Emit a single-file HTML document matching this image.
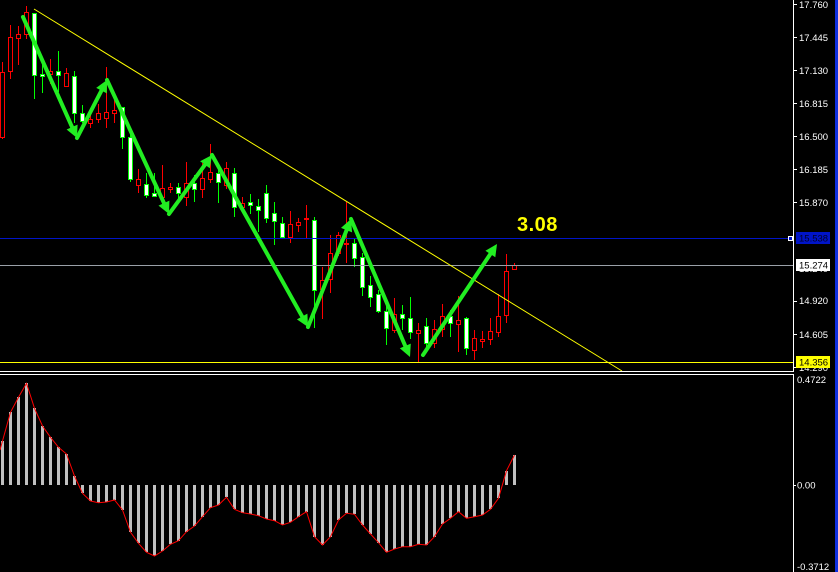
<!DOCTYPE html>
<html><head><meta charset="utf-8"><style>
html,body{margin:0;padding:0;background:#000;}
svg{display:block;}
text{font-family:"Liberation Sans",Arial,sans-serif;}
</style></head><body>
<svg width="838" height="572" viewBox="0 0 838 572" xmlns="http://www.w3.org/2000/svg">
<rect width="838" height="572" fill="#000"/>
<!-- candles -->
<g stroke-width="1" shape-rendering="crispEdges">
<g stroke="#ff0000">
<line x1="2.5" y1="62" x2="2.5" y2="139"/><rect x="0.5" y="72.5" width="4" height="65" fill="#000"/>
<line x1="10.5" y1="25" x2="10.5" y2="79"/><rect x="8.5" y="37.5" width="4" height="34" fill="#000"/>
<line x1="18.5" y1="26" x2="18.5" y2="65"/><rect x="16.5" y="34.5" width="4" height="4" fill="#000"/>
<line x1="26.5" y1="6" x2="26.5" y2="39"/><rect x="24.5" y="12.5" width="4" height="22" fill="#000"/>
<line x1="50.5" y1="59" x2="50.5" y2="84"/><rect x="48.5" y="71.5" width="4" height="3" fill="#000"/>
<line x1="66.5" y1="68" x2="66.5" y2="87"/><rect x="64.5" y="73.5" width="4" height="13" fill="#000"/>
<line x1="90.5" y1="115" x2="90.5" y2="128"/><rect x="88.5" y="119.5" width="4" height="4" fill="#000"/>
<line x1="98.5" y1="104" x2="98.5" y2="123"/><rect x="96.5" y="113.5" width="4" height="6" fill="#000"/>
<line x1="106.5" y1="67" x2="106.5" y2="128"/><rect x="104.5" y="112.5" width="4" height="6" fill="#000"/>
<line x1="114.5" y1="100" x2="114.5" y2="123"/><rect x="112.5" y="110.5" width="4" height="3" fill="#000"/>
<line x1="138.5" y1="169" x2="138.5" y2="193"/><rect x="136.5" y="179.5" width="4" height="6" fill="#000"/>
<line x1="162.5" y1="165" x2="162.5" y2="206"/><rect x="160.5" y="188.5" width="4" height="9" fill="#000"/>
<line x1="170.5" y1="183" x2="170.5" y2="193"/><rect x="168.5" y="187.5" width="4" height="2" fill="#000"/>
<line x1="186.5" y1="162" x2="186.5" y2="206"/><rect x="184.5" y="183.5" width="4" height="14" fill="#000"/>
<line x1="202.5" y1="163" x2="202.5" y2="198"/><rect x="200.5" y="178.5" width="4" height="11" fill="#000"/>
<line x1="210.5" y1="144" x2="210.5" y2="183"/><rect x="208.5" y="172.5" width="4" height="7" fill="#000"/>
<line x1="226.5" y1="162" x2="226.5" y2="189"/><rect x="224.5" y="168.5" width="4" height="17" fill="#000"/>
<line x1="242.5" y1="197" x2="242.5" y2="213"/><rect x="240.5" y="203.5" width="4" height="4" fill="#000"/>
<line x1="290.5" y1="211" x2="290.5" y2="243"/><rect x="288.5" y="224.5" width="4" height="13" fill="#000"/>
<line x1="298.5" y1="218" x2="298.5" y2="232"/><rect x="296.5" y="222.5" width="4" height="3" fill="#000"/>
<line x1="306.5" y1="205" x2="306.5" y2="239"/><rect x="304.5" y="218.5" width="4" height="1" fill="#000"/>
<line x1="322.5" y1="267" x2="322.5" y2="319"/><rect x="320.5" y="280.5" width="4" height="9" fill="#000"/>
<line x1="330.5" y1="235" x2="330.5" y2="293"/><rect x="328.5" y="253.5" width="4" height="26" fill="#000"/>
<line x1="338.5" y1="232" x2="338.5" y2="256"/><rect x="336.5" y="235.5" width="4" height="18" fill="#000"/>
<line x1="346.5" y1="202" x2="346.5" y2="263"/><rect x="344.5" y="243.5" width="4" height="1" fill="#000"/>
<line x1="394.5" y1="298" x2="394.5" y2="333"/><rect x="392.5" y="314.5" width="4" height="16" fill="#000"/>
<line x1="418.5" y1="323" x2="418.5" y2="362"/><rect x="416.5" y="330.5" width="4" height="3" fill="#000"/>
<line x1="434.5" y1="320" x2="434.5" y2="348"/><rect x="432.5" y="329.5" width="4" height="14" fill="#000"/>
<line x1="442.5" y1="304" x2="442.5" y2="337"/><rect x="440.5" y="316.5" width="4" height="13" fill="#000"/>
<line x1="458.5" y1="296" x2="458.5" y2="352"/><rect x="456.5" y="320.5" width="4" height="4" fill="#000"/>
<line x1="474.5" y1="330" x2="474.5" y2="360"/><rect x="472.5" y="338.5" width="4" height="12" fill="#000"/>
<line x1="482.5" y1="331" x2="482.5" y2="348"/><rect x="480.5" y="339.5" width="4" height="2" fill="#000"/>
<line x1="490.5" y1="318" x2="490.5" y2="345"/><rect x="488.5" y="331.5" width="4" height="8" fill="#000"/>
<line x1="498.5" y1="294" x2="498.5" y2="337"/><rect x="496.5" y="316.5" width="4" height="16" fill="#000"/>
<line x1="506.5" y1="254" x2="506.5" y2="323"/><rect x="504.5" y="271.5" width="4" height="44" fill="#000"/>
<line x1="514.5" y1="263" x2="514.5" y2="270"/><rect x="512.5" y="265.5" width="4" height="4" fill="#000"/>
</g>
<g stroke="#00ff00">
<line x1="34.5" y1="13" x2="34.5" y2="99"/><rect x="32.5" y="13.5" width="4" height="62" fill="#fff"/>
<line x1="42.5" y1="63" x2="42.5" y2="93"/><rect x="40.5" y="74.5" width="4" height="2" fill="#fff"/>
<line x1="58.5" y1="51" x2="58.5" y2="92"/><rect x="56.5" y="71.5" width="4" height="4" fill="#fff"/>
<line x1="74.5" y1="71" x2="74.5" y2="123"/><rect x="72.5" y="76.5" width="4" height="37" fill="#fff"/>
<line x1="82.5" y1="105" x2="82.5" y2="123"/><rect x="80.5" y="113.5" width="4" height="8" fill="#fff"/>
<line x1="122.5" y1="107" x2="122.5" y2="149"/><rect x="120.5" y="107.5" width="4" height="30" fill="#fff"/>
<line x1="130.5" y1="130" x2="130.5" y2="182"/><rect x="128.5" y="137.5" width="4" height="42" fill="#fff"/>
<line x1="146.5" y1="173" x2="146.5" y2="198"/><rect x="144.5" y="184.5" width="4" height="11" fill="#fff"/>
<line x1="154.5" y1="173" x2="154.5" y2="197"/><rect x="152.5" y="193.5" width="4" height="3" fill="#fff"/>
<line x1="178.5" y1="183" x2="178.5" y2="199"/><rect x="176.5" y="187.5" width="4" height="6" fill="#fff"/>
<line x1="194.5" y1="175" x2="194.5" y2="202"/><rect x="192.5" y="183.5" width="4" height="6" fill="#fff"/>
<line x1="218.5" y1="168" x2="218.5" y2="203"/><rect x="216.5" y="173.5" width="4" height="9" fill="#fff"/>
<line x1="234.5" y1="168" x2="234.5" y2="217"/><rect x="232.5" y="173.5" width="4" height="34" fill="#fff"/>
<line x1="250.5" y1="194" x2="250.5" y2="214"/><rect x="248.5" y="202.5" width="4" height="3" fill="#fff"/>
<line x1="258.5" y1="199" x2="258.5" y2="232"/><rect x="256.5" y="206.5" width="4" height="4" fill="#fff"/>
<line x1="266.5" y1="185" x2="266.5" y2="223"/><rect x="264.5" y="193.5" width="4" height="25" fill="#fff"/>
<line x1="274.5" y1="202" x2="274.5" y2="245"/><rect x="272.5" y="213.5" width="4" height="8" fill="#fff"/>
<line x1="282.5" y1="217" x2="282.5" y2="238"/><rect x="280.5" y="223.5" width="4" height="14" fill="#fff"/>
<line x1="314.5" y1="217" x2="314.5" y2="328"/><rect x="312.5" y="220.5" width="4" height="70" fill="#fff"/>
<line x1="354.5" y1="238" x2="354.5" y2="267"/><rect x="352.5" y="243.5" width="4" height="15" fill="#fff"/>
<line x1="362.5" y1="253" x2="362.5" y2="296"/><rect x="360.5" y="257.5" width="4" height="30" fill="#fff"/>
<line x1="370.5" y1="276" x2="370.5" y2="307"/><rect x="368.5" y="285.5" width="4" height="12" fill="#fff"/>
<line x1="378.5" y1="290" x2="378.5" y2="313"/><rect x="376.5" y="294.5" width="4" height="17" fill="#fff"/>
<line x1="386.5" y1="303" x2="386.5" y2="345"/><rect x="384.5" y="311.5" width="4" height="17" fill="#fff"/>
<line x1="402.5" y1="305" x2="402.5" y2="330"/><rect x="400.5" y="314.5" width="4" height="4" fill="#fff"/>
<line x1="410.5" y1="297" x2="410.5" y2="339"/><rect x="408.5" y="318.5" width="4" height="14" fill="#fff"/>
<line x1="426.5" y1="318" x2="426.5" y2="347"/><rect x="424.5" y="326.5" width="4" height="17" fill="#fff"/>
<line x1="450.5" y1="310" x2="450.5" y2="337"/><rect x="448.5" y="316.5" width="4" height="7" fill="#fff"/>
<line x1="466.5" y1="317" x2="466.5" y2="355"/><rect x="464.5" y="318.5" width="4" height="30" fill="#fff"/>
</g>
</g>
<!-- horizontal lines -->
<g shape-rendering="crispEdges">
<line x1="0" y1="238.5" x2="788" y2="238.5" stroke="#0014c8" stroke-width="1"/>
<rect x="788.5" y="236.5" width="4" height="4" fill="#0014c8" stroke="#fff" stroke-width="1"/>
<line x1="0" y1="265.5" x2="793" y2="265.5" stroke="#9aa0a8" stroke-width="1"/>
<line x1="0" y1="362.5" x2="793" y2="362.5" stroke="#ffff00" stroke-width="1"/>
</g>
<!-- trendline -->
<line x1="34" y1="9" x2="622" y2="371" stroke="#ffff00" stroke-width="1"/>
<!-- green arrows -->
<g stroke="#22ee22" stroke-width="4" stroke-linecap="round" fill="none">
<line x1="23" y1="17" x2="74.5" y2="132.5"/>
<line x1="77" y1="138" x2="104.2" y2="85.3"/>
<line x1="107" y1="80" x2="166.5" y2="208.5"/>
<line x1="169" y1="214" x2="208.5" y2="159.9"/>
<line x1="212" y1="155" x2="305.1" y2="321.8"/>
<line x1="308" y1="327" x2="348.8" y2="224.6"/>
<line x1="351" y1="219" x2="407.6" y2="351.5"/>
<line x1="423" y1="355" x2="493.7" y2="249"/>
</g>
<g fill="#22ee22">
<polygon points="77,138 66.6,129.5 77.6,124.6"/>
<polygon points="107,80 106.8,93.4 96.2,87.9"/>
<polygon points="169,214 158.5,205.6 169.4,200.6"/>
<polygon points="212,155 209.8,168.2 200.1,161.2"/>
<polygon points="308,327 296.9,319.4 307.4,313.6"/>
<polygon points="351,219 352.1,232.4 341,227.9"/>
<polygon points="410,357 399.8,348.3 410.8,343.6"/>
<polygon points="497,244 495.3,257.3 485.4,250.7"/>
</g>
<text x="517" y="231" font-size="20" font-weight="bold" fill="#ffff00" letter-spacing="0.5">3.08</text>
<!-- window borders -->
<g stroke="#fff" stroke-width="1" shape-rendering="crispEdges">
<line x1="793.5" y1="0" x2="793.5" y2="371"/>
<line x1="0" y1="371.5" x2="794" y2="371.5"/>
<line x1="0" y1="374.5" x2="794" y2="374.5"/>
<line x1="793.5" y1="374" x2="793.5" y2="572"/>
<line x1="793" y1="4.5" x2="797" y2="4.5"/>
<line x1="793" y1="37.5" x2="797" y2="37.5"/>
<line x1="793" y1="70.5" x2="797" y2="70.5"/>
<line x1="793" y1="103.5" x2="797" y2="103.5"/>
<line x1="793" y1="136.5" x2="797" y2="136.5"/>
<line x1="793" y1="169.5" x2="797" y2="169.5"/>
<line x1="793" y1="202.5" x2="797" y2="202.5"/>
<line x1="793" y1="301.5" x2="797" y2="301.5"/>
<line x1="793" y1="334.5" x2="797" y2="334.5"/>
<line x1="793" y1="367.5" x2="797" y2="367.5"/>
<line x1="793" y1="485.5" x2="796" y2="485.5"/>
</g>
<!-- price labels -->
<g fill="#fff" font-size="9.5">
<text x="799" y="8">17.760</text>
<text x="799" y="41">17.445</text>
<text x="799" y="74">17.130</text>
<text x="799" y="107">16.815</text>
<text x="799" y="140">16.500</text>
<text x="799" y="173">16.185</text>
<text x="799" y="206">15.870</text>
<text x="799" y="239">15.555</text>
<text x="799" y="272">15.240</text>
<text x="799" y="304">14.920</text>
<text x="799" y="338">14.605</text>
<text x="799" y="371">14.290</text>
<text x="797" y="383">0.4722</text>
<text x="797" y="488.5">0.00</text>
<text x="797" y="570">-0.3712</text>
</g>
<rect x="796" y="232" width="34" height="12" fill="#0014c8"/>
<text x="799" y="241.5" font-size="9.5" fill="#000028">15.538</text>
<rect x="796" y="259" width="34" height="12" fill="#fff"/>
<text x="799" y="268.5" font-size="9.5" fill="#000">15.274</text>
<rect x="796" y="356" width="34" height="12" fill="#ffff00"/>
<text x="799" y="365.5" font-size="9.5" fill="#000">14.356</text>
<!-- right blue stripe -->
<rect x="835" y="0" width="3" height="572" fill="#1030e0"/>
<!-- histogram -->
<path fill="#c0c0c0" shape-rendering="crispEdges" d="M1 441h3v44h-3z M9 412h3v73h-3z M17 397h3v88h-3z M25 383h3v102h-3z M33 408h3v77h-3z M41 426h3v59h-3z M49 437h3v48h-3z M57 447h3v38h-3z M65 454h3v31h-3z M73 476h3v9h-3z
M81 485h3v8h-3z M89 485h3v16h-3z M97 485h3v18h-3z M105 485h3v17h-3z M113 485h3v15h-3z M121 485h3v25h-3z M129 485h3v47h-3z M137 485h3v58h-3z M145 485h3v67h-3z M153 485h3v71h-3z
M161 485h3v66h-3z M169 485h3v59h-3z M177 485h3v56h-3z M185 485h3v47h-3z M193 485h3v41h-3z M201 485h3v32h-3z M209 485h3v23h-3z M217 485h3v20h-3z M225 485h3v12h-3z M233 485h3v24h-3z
M241 485h3v28h-3z M249 485h3v29h-3z M257 485h3v31h-3z M265 485h3v34h-3z M273 485h3v36h-3z M281 485h3v40h-3z M289 485h3v37h-3z M297 485h3v32h-3z M305 485h3v27h-3z M313 485h3v52h-3z
M321 485h3v60h-3z M329 485h3v52h-3z M337 485h3v35h-3z M345 485h3v28h-3z M353 485h3v29h-3z M361 485h3v40h-3z M369 485h3v49h-3z M377 485h3v58h-3z M385 485h3v67h-3z M393 485h3v64h-3z
M401 485h3v62h-3z M409 485h3v62h-3z M417 485h3v59h-3z M425 485h3v60h-3z M433 485h3v52h-3z M441 485h3v39h-3z M449 485h3v33h-3z M457 485h3v27h-3z M465 485h3v33h-3z M473 485h3v32h-3z
M481 485h3v30h-3z M489 485h3v24h-3z M497 485h3v13h-3z M505 471h3v14h-3z M513 455h3v30h-3z"/>
<polyline fill="none" stroke="#ff0000" stroke-width="1" points="0,450 2.5,441 10.5,412.3 18.5,397.3 26.5,383.3 34.5,408.3 42.5,426 50.5,437.3 58.5,447.3 66.5,454 74.5,476 82.5,493.3 90.5,501 98.5,502.7 106.5,502 114.5,500 122.5,510 130.5,532.3 138.5,543.3 146.5,552.3 154.5,556 162.5,551 170.5,544.3 178.5,540.7 186.5,531.7 194.5,526 202.5,516.7 210.5,507.7 218.5,505 226.5,497.3 234.5,509.3 242.5,512.7 250.5,514 258.5,515.7 266.5,519 274.5,520.7 282.5,525 290.5,522.3 298.5,516.7 306.5,511.7 314.5,536.7 322.5,545 330.5,536.7 338.5,520 346.5,513.3 354.5,514.3 362.5,525 370.5,534 378.5,542.7 386.5,552.3 394.5,549 402.5,546.7 410.5,546.7 418.5,544.3 426.5,545 434.5,536.7 442.5,524 450.5,518.3 458.5,511.7 466.5,518.3 474.5,516.7 482.5,515 490.5,509.3 498.5,498.3 506.5,470.7 514.5,455"/>
</svg>
</body></html>
